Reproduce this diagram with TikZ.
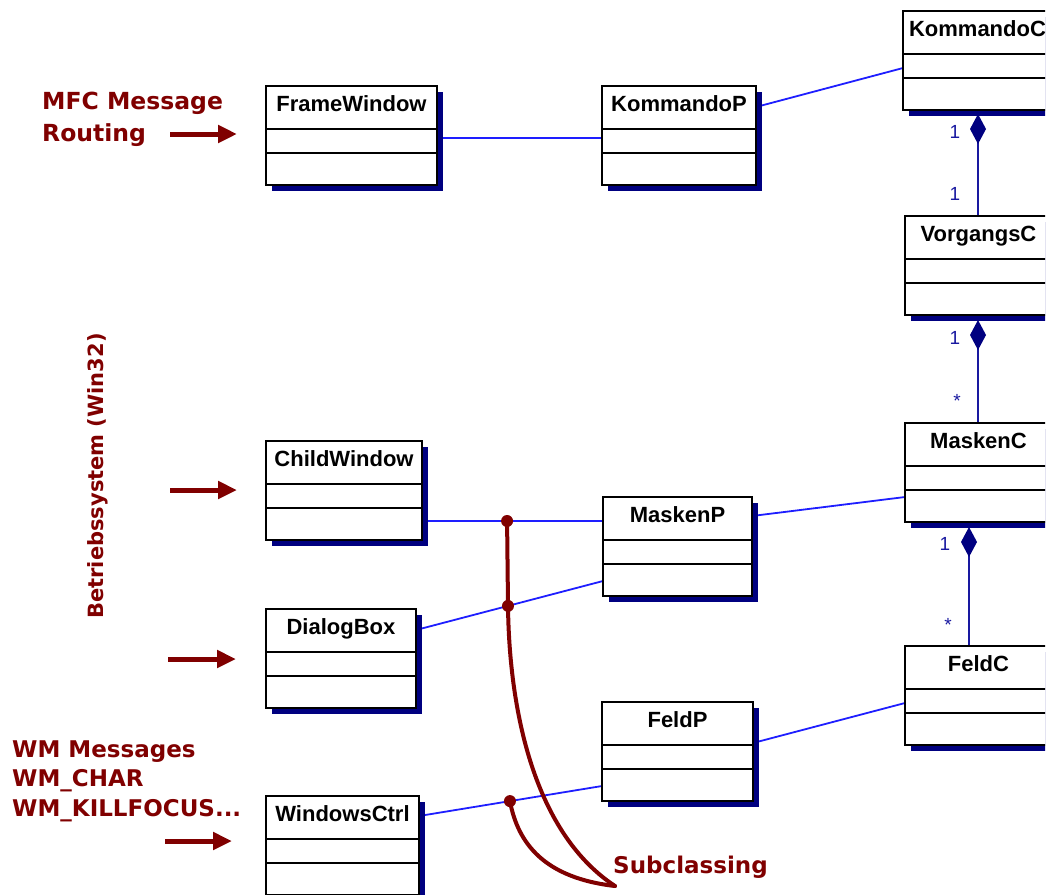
\documentclass[tikz,border=0pt]{standalone}
\usepackage{fontspec}
\setmainfont{Liberation Sans}
\newfontfamily\notefont{DejaVu Sans Bold}
\usetikzlibrary{arrows.meta,calc,shadows}

\definecolor{noteRed}{RGB}{128,0,0}
\definecolor{linkBlue}{RGB}{30,30,255}
\definecolor{compBlue}{RGB}{25,25,160}
\definecolor{shadowNavy}{RGB}{0,0,128}

\pgfdeclarelayer{connectors}
\pgfsetlayers{connectors,main}

\tikzset{
  classbox/.style={draw=black, line width=2pt, fill=white, anchor=north west,
    minimum height=99pt, inner sep=0pt, outer sep=0pt,
    drop shadow={shadow xshift=6pt, shadow yshift=-6pt, fill=shadowNavy, opacity=1}},
  classtitle/.style={font=\bfseries\fontsize{22}{24}\selectfont, anchor=base, inner sep=0pt},
  divider/.style={draw=black, line width=2pt},
  assoc/.style={draw=linkBlue, line width=1.8pt},
  comp/.style={draw=compBlue, line width=2.2pt,
    {Diamond[length=30pt,width=16pt,fill=shadowNavy,color=shadowNavy]}-},
  mult/.style={text=compBlue, font=\fontsize{19}{20}\selectfont, inner sep=0pt, anchor=base},
  note/.style={text=noteRed, inner sep=0pt, align=left},
  msgarrow/.style={draw=noteRed, line width=5pt, -{Triangle[length=19pt,width=17pt]}},
  subline/.style={draw=noteRed, line width=4pt, line cap=round},
  subdot/.style={circle, fill=noteRed, minimum size=12pt, inner sep=0pt},
}

% class box: name, x, y, width, title
\newcommand\classbox[5]{%
  \node[classbox, minimum width=#4pt] (#1) at (#2,#3) {};
  \node[classtitle] (#1-t) at ($(#1.north)+(0,25.5)$) {#5};
  \draw[divider] ($(#1.north west)+(0,43)$) -- ($(#1.north east)+(0,43)$);
  \draw[divider] ($(#1.north west)+(0,67)$) -- ($(#1.north east)+(0,67)$);
}

\begin{document}
\begin{tikzpicture}[x=1pt,y=-1pt]
\useasboundingbox (0,0) rectangle (1048,894);
\clip (0,0) rectangle (1045,894);

% classes
\classbox{frame}{266}{86}{171}{FrameWindow}
\classbox{kp}{602}{86}{154}{KommandoP}
\classbox{kc}{903}{11}{149}{KommandoC}
\classbox{vc}{905}{216}{147}{VorgangsC}
\classbox{mc}{905}{423}{147}{MaskenC}
\classbox{fc}{905}{646}{147}{FeldC}
\classbox{cw}{266}{441}{156}{ChildWindow}
\classbox{mp}{603}{497}{149}{MaskenP}
\classbox{db}{266}{609}{150}{DialogBox}
\classbox{fp}{602}{702}{151}{FeldP}
\classbox{wc}{266}{796}{153}{WindowsCtrl}

% associations and compositions
\begin{pgfonlayer}{connectors}
  \draw[assoc] ($(frame.north east)+(0,52)$) -- ($(kp.north west)+(0,52)$);
  \draw[assoc] ($(kp.north east)+(0,21)$) -- ($(kc.north west)+(0,57)$);
  \draw[assoc] ($(cw.north east)+(0,80)$) -- ($(mp.north west)+(0,24)$) coordinate[pos=0.47] (s1);
  \draw[assoc] ($(db.north east)+(0,21)$) -- ($(mp.north west)+(0,84)$) coordinate[pos=0.492] (s2);
  \draw[assoc] ($(mp.north east)+(0,19)$) -- ($(mc.north west)+(0,74)$);
  \draw[assoc] ($(fp.north east)+(0,41)$) -- ($(fc.north west)+(0,57)$);
  \draw[assoc] ($(wc.north east)+(0,20)$) -- ($(fp.north west)+(0,84)$) coordinate[pos=0.497] (s3);

  \draw[comp] ($(kc.south)+(0.5,4)$) coordinate (c1) -- (c1 |- vc.north);
  \draw[comp] ($(vc.south)+(-0.5,5)$) coordinate (c2) -- (c2 |- mc.north);
  \draw[comp] ($(mc.south)+(-9.5,5)$) coordinate (c3) -- (c3 |- fc.north);
\end{pgfonlayer}

% multiplicities
\node[mult] (m1) at (955,138) {1};
\node[mult] (m2) at (955,200) {1};
\node[mult] (m3) at (955,344) {1};
\node[mult] (m4) at (957,407) {*};
\node[mult] (m5) at (945,550) {1};
\node[mult] (m6) at (948,631) {*};

% message sources
\node[note, anchor=north west, font=\notefont\fontsize{23.5}{32}\selectfont] (mfc) at (42,91.5) {MFC Message\\Routing};
\node[note, anchor=north west, font=\notefont\fontsize{23}{29.5}\selectfont] (wm) at (12,740.5) {WM Messages\\WM\_CHAR\\WM\_KILLFOCUS...};
\node[note, anchor=base, rotate=90, font=\notefont\fontsize{21}{26}\selectfont] (os) at (103,476) {Betriebssystem (Win32)};
\node[note, anchor=base west, font=\notefont\fontsize{23}{28}\selectfont] (sub) at (613,873) {Subclassing};

\coordinate (a1s) at (170,134); \coordinate (a1e) at (237,134);
\coordinate (a2s) at (170,490); \coordinate (a2e) at (237,490);
\coordinate (a3s) at (168,659); \coordinate (a3e) at (236,659);
\coordinate (a4s) at (165,841); \coordinate (a4e) at (232,841);
\draw[msgarrow] (a1s) -- (a1e);
\draw[msgarrow] (a2s) -- (a2e);
\draw[msgarrow] (a3s) -- (a3e);
\draw[msgarrow] (a4s) -- (a4e);

% subclassing hooks
\coordinate (subtip) at (615,886);
\draw[subline] (s1) -- (s2) .. controls ($(s2)+(1,94)$) and ($(subtip)+(-85,-56)$) .. (subtip);
\draw[subline] (s3) .. controls ($(s3)+(8,43)$) and ($(subtip)+(-70,-8)$) .. (subtip);
\node[subdot] (d1) at (s1) {};
\node[subdot] (d2) at (s2) {};
\node[subdot] (d3) at (s3) {};
\end{tikzpicture}
\end{document}
